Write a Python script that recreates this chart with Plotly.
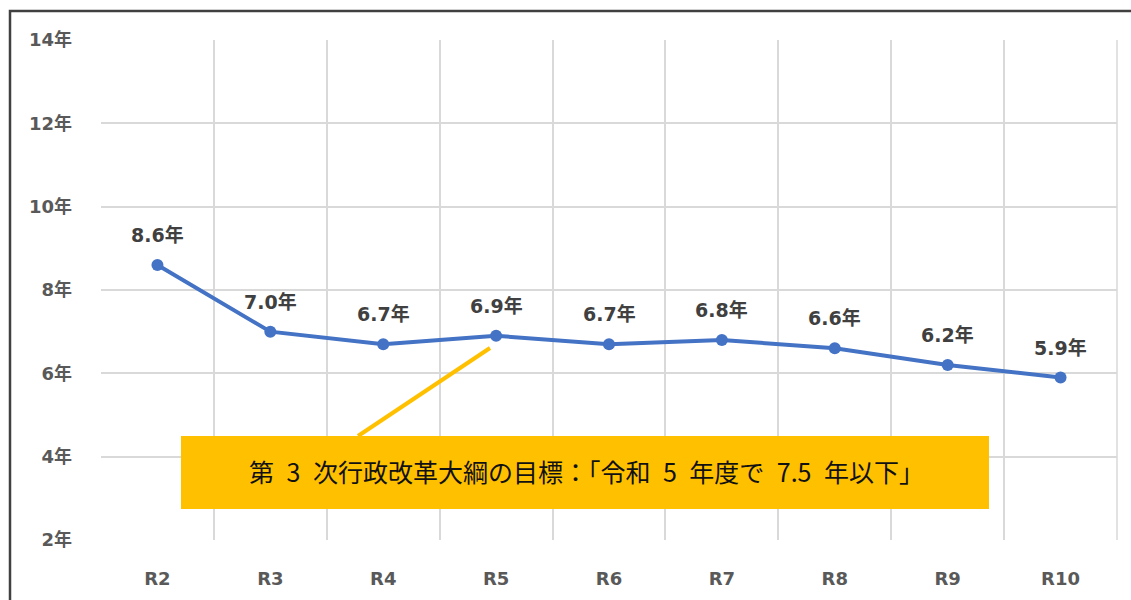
import plotly.graph_objects as go

categories = ["R2", "R3", "R4", "R5", "R6", "R7", "R8", "R9", "R10"]
values = [8.6, 7.0, 6.7, 6.9, 6.7, 6.8, 6.6, 6.2, 5.9]
label_texts = ["8.6年", "7.0年", "6.7年", "6.9年", "6.7年", "6.8年", "6.6年", "6.2年", "5.9年"]
y_ticks = [2, 4, 6, 8, 10, 12, 14]
y_tick_labels = ["2年", "4年", "6年", "8年", "10年", "12年", "14年"]
note_text = "第\u20023\u2002次行政改革大綱の目標：「令和\u20025\u2002年度で\u20027.5\u2002年以下」"

W, H = 1131, 600
L, R, T, B = 101, 14, 40, 60
PW, PH = W - L - R, H - T - B

def px_x(p):
    return (p - L) / PW

def px_y(p):
    return (H - B - p) / PH

FONT = "DejaVu Sans, Noto Sans CJK JP, sans-serif"

fig = go.Figure()
fig.add_trace(go.Scatter(
    x=categories, y=values, mode="lines+markers",
    line=dict(color="#4472C4", width=4),
    marker=dict(color="#4472C4", size=12),
    hoverinfo="skip", showlegend=False,
))

for c, v, t in zip(categories, values, label_texts):
    fig.add_annotation(x=c, y=v, text="<b>" + t + "</b>", showarrow=False,
                       yshift=30, font=dict(family=FONT, size=19, color="#404040"))

# yellow connector line and note box
fig.add_shape(type="line", xref="paper", yref="paper",
              x0=px_x(358), y0=px_y(436), x1=px_x(490), y1=px_y(348),
              line=dict(color="#FFC000", width=4))
fig.add_shape(type="rect", xref="paper", yref="paper",
              x0=px_x(181), y0=px_y(509), x1=px_x(989), y1=px_y(436),
              fillcolor="#FFC000", line=dict(width=0), layer="above")
fig.add_annotation(xref="paper", yref="paper", x=px_x(586), y=px_y(471),
                   xanchor="center", yanchor="middle",
                   text=note_text, showarrow=False,
                   font=dict(family="Noto Sans CJK JP, sans-serif", size=25, color="#111111"))

# outer frame
fig.add_shape(type="rect", xref="paper", yref="paper",
              x0=px_x(10), y0=px_y(620), x1=px_x(1150), y1=px_y(11),
              line=dict(color="#404040", width=2.5), fillcolor="rgba(0,0,0,0)", layer="above")

fig.update_layout(
    width=W, height=H,
    margin=dict(l=L, r=R, t=T, b=B),
    paper_bgcolor="white", plot_bgcolor="white",
    font=dict(family=FONT),
    xaxis=dict(
        type="category", tickson="boundaries", showgrid=True, gridcolor="#D9D9D9", gridwidth=1.5,
        ticks="", showline=False, zeroline=False,
        tickfont=dict(family=FONT, size=18, color="#595959"),
        ticklabelstandoff=26,
        range=[-0.5, 8.5],
    ),
    yaxis=dict(
        range=[2, 14], tickvals=y_ticks, ticktext=["<b>" + s + "</b>" for s in y_tick_labels],
        showgrid=True, gridcolor="#D9D9D9", gridwidth=1.5, zeroline=False,
        showline=False, ticks="",
        tickfont=dict(family=FONT, size=18, color="#595959"),
        ticklabelstandoff=28,
    ),
)
fig.update_xaxes(ticktext=["<b>" + c + "</b>" for c in categories], tickvals=categories)
# right-edge vertical line of the plot area
fig.add_shape(type="line", xref="paper", yref="paper", x0=1, x1=1, y0=0, y1=1,
              line=dict(color="#D9D9D9", width=1.5), layer="below")

fig.write_html("out.html")
